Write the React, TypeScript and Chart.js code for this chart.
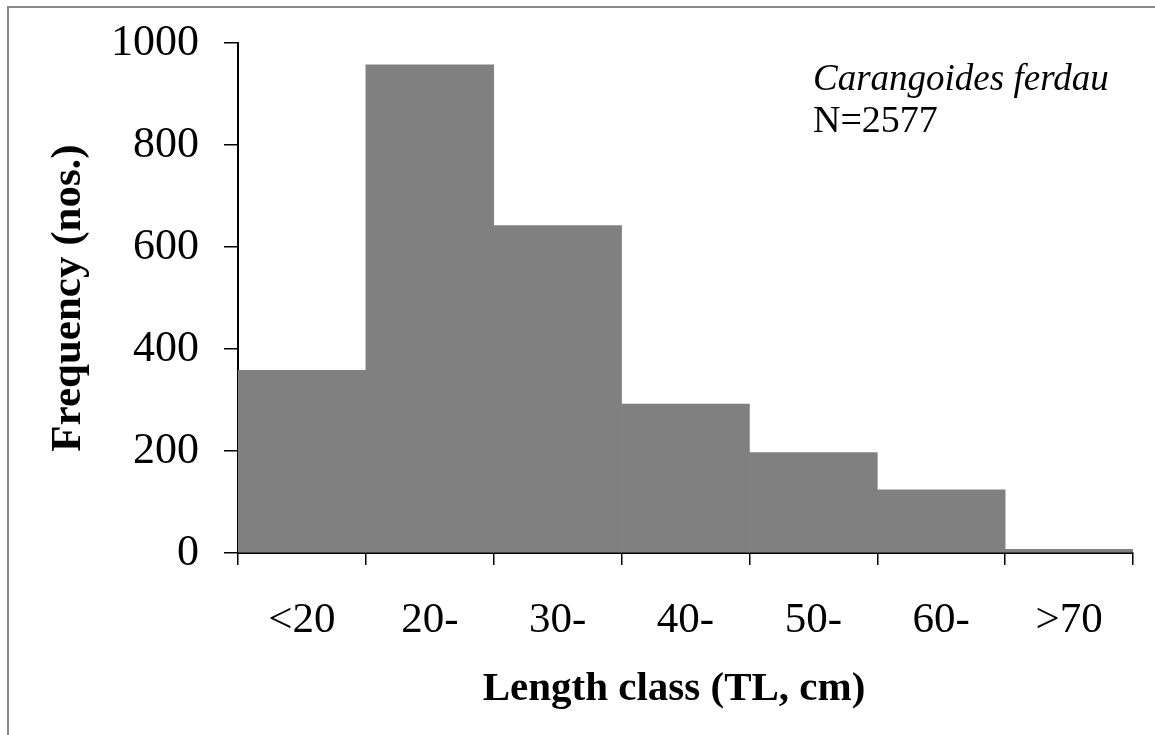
import React, { useEffect, useRef } from "react";
import { Chart, registerables } from "chart.js";

Chart.register(...registerables);

const categories = ["<20", "20-", "30-", "40-", "50-", "60-", ">70"];
const frequency = [358, 957, 642, 292, 197, 124, 7];
const yTicks = [0, 200, 400, 600, 800, 1000];
const speciesName = "Carangoides ferdau";
const sampleSize = "N=2577";
const xTitle = "Length class (TL, cm)";
const yTitle = "Frequency (nos.)";

const FONT = "'Liberation Serif', 'Times New Roman', serif";

export default function App() {
  const ref = useRef<HTMLCanvasElement | null>(null);

  useEffect(() => {
    const canvas = ref.current;
    if (!canvas) return;

    const frame = {
      id: "frameAndNote",
      beforeDraw(chart: any) {
        const ctx = chart.ctx;
        ctx.save();
        ctx.fillStyle = "#ffffff";
        ctx.fillRect(0, 0, chart.width, chart.height);
        ctx.strokeStyle = "#888888";
        ctx.lineWidth = 2;
        ctx.strokeRect(8, 7, 3000, 3000);
        ctx.restore();
      },
      afterDraw(chart: any) {
        const ctx = chart.ctx;
        ctx.save();
        ctx.fillStyle = "#000000";
        ctx.textAlign = "left";
        ctx.textBaseline = "alphabetic";
        ctx.font = `italic 37px ${FONT}`;
        ctx.fillText(speciesName, 813, 90);
        ctx.font = `38px ${FONT}`;
        ctx.fillText(sampleSize, 813, 132);
        // x-axis title, centred where the reference places it
        ctx.textAlign = "center";
        ctx.textBaseline = "middle";
        ctx.font = `bold 41px ${FONT}`;
        ctx.fillText(xTitle, 674, 689);
        ctx.restore();
      },
    };

    const chart = new Chart(canvas, {
      type: "bar",
      data: {
        labels: categories,
        datasets: [
          {
            data: frequency,
            backgroundColor: "#808080",
            borderWidth: 0,
            barPercentage: 1,
            categoryPercentage: 1,
          },
        ],
      },
      options: {
        animation: false,
        responsive: false,
        events: [],
        layout: { padding: { top: 43, right: 22, left: 0, bottom: 0 } },
        plugins: {
          legend: { display: false },
          tooltip: { enabled: false },
          title: { display: false },
        },
        scales: {
          x: {
            z: 1,
            afterFit: (s: any) => {
              s.height = 182;
            },
            grid: {
              display: true,
              offset: true,
              drawOnChartArea: false,
              drawTicks: true,
              tickLength: 12,
              color: "#000000",
              lineWidth: 1.5,
            },
            border: { display: true, color: "#000000", width: 2 },
            ticks: {
              color: "#000000",
              font: { family: FONT, size: 43 },
              padding: 30,
              maxRotation: 0,
              autoSkip: false,
            },
            title: { display: false, text: xTitle },
          },
          y: {
            z: 1,
            min: 0,
            max: 1000,
            afterFit: (s: any) => {
              s.width = 238;
              s.paddingTop = 10;
              s.paddingBottom = 10;
            },
            afterBuildTicks: (s: any) => {
              s.ticks = yTicks.map((v) => ({ value: v }));
            },
            grid: {
              display: true,
              drawOnChartArea: false,
              drawTicks: true,
              tickLength: 14,
              color: "#000000",
              lineWidth: 1.5,
            },
            border: { display: true, color: "#000000", width: 2 },
            ticks: {
              color: "#000000",
              font: { family: FONT, size: 44 },
              padding: 25,
              callback: (v: any) => String(v),
            },
            title: {
              display: true,
              text: yTitle,
              color: "#000000",
              font: { family: FONT, size: 43, weight: "bold" },
              padding: { top: 43, bottom: 0 },
            },
          },
        },
      },
      plugins: [frame],
    });

    return () => chart.destroy();
  }, []);

  return (
    <canvas
      ref={ref}
      width={1155}
      height={735}
      style={{ position: "fixed", left: 0, top: 0, width: 1155, height: 735, display: "block" }}
    />
  );
}
